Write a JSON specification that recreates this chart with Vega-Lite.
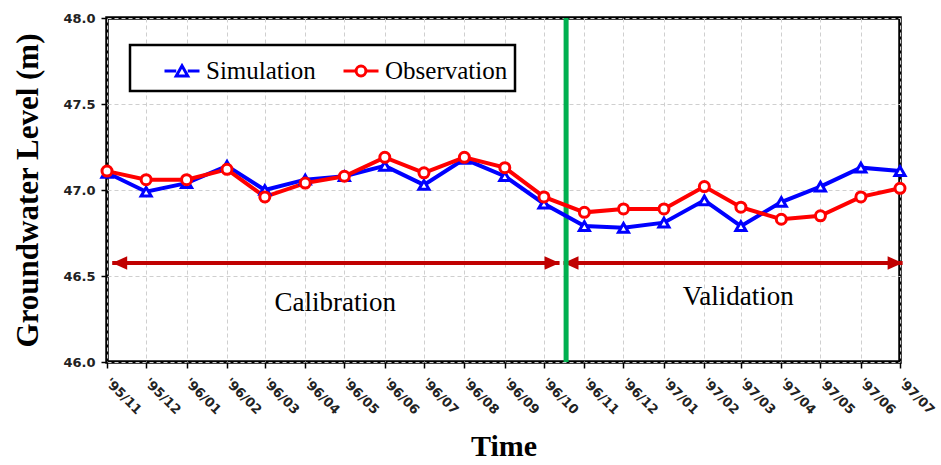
{
  "$schema": "https://vega.github.io/schema/vega-lite/v6.json",
  "width": 793,
  "height": 344,
  "autosize": "none",
  "padding": {"left": 107, "top": 18, "right": 41, "bottom": 103},
  "background": "white",
  "config": {
    "view": {"stroke": "black", "strokeWidth": 3.5},
    "axis": {
      "grid": true,
      "gridColor": "#cfcfcf",
      "gridDash": [4, 3],
      "gridWidth": 1,
      "domain": false,
      "tickColor": "black",
      "tickWidth": 1.5,
      "tickSize": 6,
      "labelColor": "#222222",
      "labelFont": "DejaVu Sans",
      "labelFontWeight": "bold",
      "titleFont": "Liberation Serif",
      "titleFontWeight": "bold",
      "titleColor": "black"
    },
    "legend": {"strokeWidth": 2.5}
  },
  "datasets": {
    "levels": [
      {"month": "1995-11-01", "series": "Simulation", "level": 47.10},
      {"month": "1995-12-01", "series": "Simulation", "level": 46.99},
      {"month": "1996-01-01", "series": "Simulation", "level": 47.04},
      {"month": "1996-02-01", "series": "Simulation", "level": 47.14},
      {"month": "1996-03-01", "series": "Simulation", "level": 47.00},
      {"month": "1996-04-01", "series": "Simulation", "level": 47.06},
      {"month": "1996-05-01", "series": "Simulation", "level": 47.08},
      {"month": "1996-06-01", "series": "Simulation", "level": 47.14},
      {"month": "1996-07-01", "series": "Simulation", "level": 47.03},
      {"month": "1996-08-01", "series": "Simulation", "level": 47.18},
      {"month": "1996-09-01", "series": "Simulation", "level": 47.08},
      {"month": "1996-10-01", "series": "Simulation", "level": 46.92},
      {"month": "1996-11-01", "series": "Simulation", "level": 46.79},
      {"month": "1996-12-01", "series": "Simulation", "level": 46.78},
      {"month": "1997-01-01", "series": "Simulation", "level": 46.81},
      {"month": "1997-02-01", "series": "Simulation", "level": 46.94},
      {"month": "1997-03-01", "series": "Simulation", "level": 46.79},
      {"month": "1997-04-01", "series": "Simulation", "level": 46.93},
      {"month": "1997-05-01", "series": "Simulation", "level": 47.02},
      {"month": "1997-06-01", "series": "Simulation", "level": 47.13},
      {"month": "1997-07-01", "series": "Simulation", "level": 47.11},
      {"month": "1995-11-01", "series": "Observation", "level": 47.11},
      {"month": "1995-12-01", "series": "Observation", "level": 47.06},
      {"month": "1996-01-01", "series": "Observation", "level": 47.06},
      {"month": "1996-02-01", "series": "Observation", "level": 47.12},
      {"month": "1996-03-01", "series": "Observation", "level": 46.96},
      {"month": "1996-04-01", "series": "Observation", "level": 47.04},
      {"month": "1996-05-01", "series": "Observation", "level": 47.08},
      {"month": "1996-06-01", "series": "Observation", "level": 47.19},
      {"month": "1996-07-01", "series": "Observation", "level": 47.10},
      {"month": "1996-08-01", "series": "Observation", "level": 47.19},
      {"month": "1996-09-01", "series": "Observation", "level": 47.13},
      {"month": "1996-10-01", "series": "Observation", "level": 46.96},
      {"month": "1996-11-01", "series": "Observation", "level": 46.87},
      {"month": "1996-12-01", "series": "Observation", "level": 46.89},
      {"month": "1997-01-01", "series": "Observation", "level": 46.89},
      {"month": "1997-02-01", "series": "Observation", "level": 47.02},
      {"month": "1997-03-01", "series": "Observation", "level": 46.90},
      {"month": "1997-04-01", "series": "Observation", "level": 46.83},
      {"month": "1997-05-01", "series": "Observation", "level": 46.85},
      {"month": "1997-06-01", "series": "Observation", "level": 46.96},
      {"month": "1997-07-01", "series": "Observation", "level": 47.01}
    ],
    "phases": [
      {"phase": "Calibration", "start": "1995-11-05", "end": "1996-10-13", "arrowY": 46.575, "labelDate": "1996-04-24", "labelY": 46.343},
      {"phase": "Validation", "start": "1996-10-16", "end": "1997-07-03", "arrowY": 46.575, "labelDate": "1997-02-27", "labelY": 46.378}
    ],
    "divider": [{"date": "1996-10-18"}]
  },
  "layer": [
    {
      "data": {"name": "phases"},
      "mark": {"type": "rule", "color": "#C00000", "strokeWidth": 4},
      "encoding": {
        "x": {"field": "start", "type": "temporal"},
        "x2": {"field": "end"},
        "y": {"field": "arrowY", "type": "quantitative"}
      }
    },
    {
      "data": {"name": "phases"},
      "mark": {"type": "point", "shape": "M0,0L2,-0.9L2,0.9Z", "filled": true, "color": "#C00000", "size": 225, "opacity": 1},
      "encoding": {
        "x": {"field": "start", "type": "temporal"},
        "y": {"field": "arrowY", "type": "quantitative"}
      }
    },
    {
      "data": {"name": "phases"},
      "mark": {"type": "point", "shape": "M0,0L-2,-0.9L-2,0.9Z", "filled": true, "color": "#C00000", "size": 225, "opacity": 1},
      "encoding": {
        "x": {"field": "end", "type": "temporal"},
        "y": {"field": "arrowY", "type": "quantitative"}
      }
    },
    {
      "data": {"name": "phases"},
      "mark": {"type": "text", "font": "Liberation Serif", "fontSize": 27, "color": "black", "align": "center", "baseline": "middle"},
      "encoding": {
        "x": {"field": "labelDate", "type": "temporal"},
        "y": {"field": "labelY", "type": "quantitative"},
        "text": {"field": "phase"}
      }
    },
    {
      "data": {"name": "divider"},
      "mark": {"type": "rule", "color": "#00B050", "strokeWidth": 5},
      "encoding": {
        "x": {"field": "date", "type": "temporal"}
      }
    },
    {
      "data": {"name": "levels"},
      "mark": {"type": "line", "strokeWidth": 4},
      "encoding": {
        "x": {
          "field": "month", "type": "temporal",
          "scale": {"type": "utc", "domain": ["1995-11-01", "1997-07-01"], "nice": false},
          "axis": {
            "title": "Time", "titleFontSize": 30, "titlePadding": 15,
            "format": "'%y/%m", "labelAngle": 45, "labelAlign": "left", "labelBaseline": "middle",
            "labelFontSize": 13, "labelPadding": 12, "labelOverlap": false, "labelFlush": false,
            "tickCount": {"interval": "month", "step": 1}
          }
        },
        "y": {
          "field": "level", "type": "quantitative",
          "scale": {"domain": [46, 48], "nice": false, "zero": false},
          "axis": {
            "title": "Groundwater Level (m)", "titleFontSize": 31, "titlePadding": 18,
            "values": [46, 46.5, 47, 47.5, 48], "format": ".1f",
            "labelFontSize": 13, "labelPadding": 6
          }
        },
        "stroke": {
          "field": "series", "type": "nominal",
          "scale": {"domain": ["Simulation", "Observation"], "range": ["#0000FF", "#FF0000"]},
          "legend": null
        }
      }
    },
    {
      "data": {"name": "levels"},
      "mark": {"type": "point", "filled": true, "fill": "white", "strokeWidth": 3, "size": 100, "opacity": 1},
      "encoding": {
        "x": {"field": "month", "type": "temporal"},
        "y": {"field": "level", "type": "quantitative"},
        "stroke": {
          "field": "series", "type": "nominal",
          "scale": {"domain": ["Simulation", "Observation"], "range": ["#0000FF", "#FF0000"]},
          "legend": null
        },
        "shape": {
          "field": "series", "type": "nominal",
          "scale": {"domain": ["Simulation", "Observation"], "range": ["triangle-up", "circle"]},
          "legend": null
        }
      }
    },
    {
      "data": {"name": "levels"},
      "mark": {"type": "point", "filled": true, "fill": "white", "strokeWidth": 3, "opacity": 0},
      "encoding": {
        "stroke": {
          "field": "series", "type": "nominal",
          "scale": {"domain": ["Simulation", "Observation"], "range": ["#0000FF", "#FF0000"]},
          "legend": {
            "title": null, "orient": "none", "legendX": 23, "legendY": 27, "direction": "horizontal",
            "padding": 7, "symbolOffset": 26, "columnPadding": 0, "labelOffset": 5,
            "symbolSize": 1225, "symbolStrokeWidth": 3, "symbolOpacity": 1, "symbolFillColor": "white",
            "labelFont": "Liberation Serif", "labelFontSize": 25, "labelColor": "black", "labelLimit": 300,
            "strokeColor": "black", "fillColor": "white",
            "encode": {"legend": {"update": {"strokeWidth": {"value": 2.5}}}}
          }
        },
        "shape": {
          "field": "series", "type": "nominal",
          "scale": {"domain": ["Simulation", "Observation"], "range": ["M-1,0H-0.33M0.33,0H1M0,-0.3L0.33,0.28L-0.33,0.28Z", "M-1,0H-0.3M0.3,0H1M-0.28,0A0.28,0.28,0,1,0,0.28,0A0.28,0.28,0,1,0,-0.28,0Z"]},
          "legend": {
            "title": null, "orient": "none", "legendX": 23, "legendY": 27, "direction": "horizontal",
            "padding": 7, "symbolOffset": 26, "columnPadding": 0, "labelOffset": 5,
            "symbolSize": 1225, "symbolStrokeWidth": 3, "symbolOpacity": 1, "symbolFillColor": "white",
            "labelFont": "Liberation Serif", "labelFontSize": 25, "labelColor": "black", "labelLimit": 300,
            "strokeColor": "black", "fillColor": "white",
            "encode": {"legend": {"update": {"strokeWidth": {"value": 2.5}}}}
          }
        }
      }
    }
  ],
  "resolve": {"scale": {"stroke": "independent", "shape": "independent"}}
}
